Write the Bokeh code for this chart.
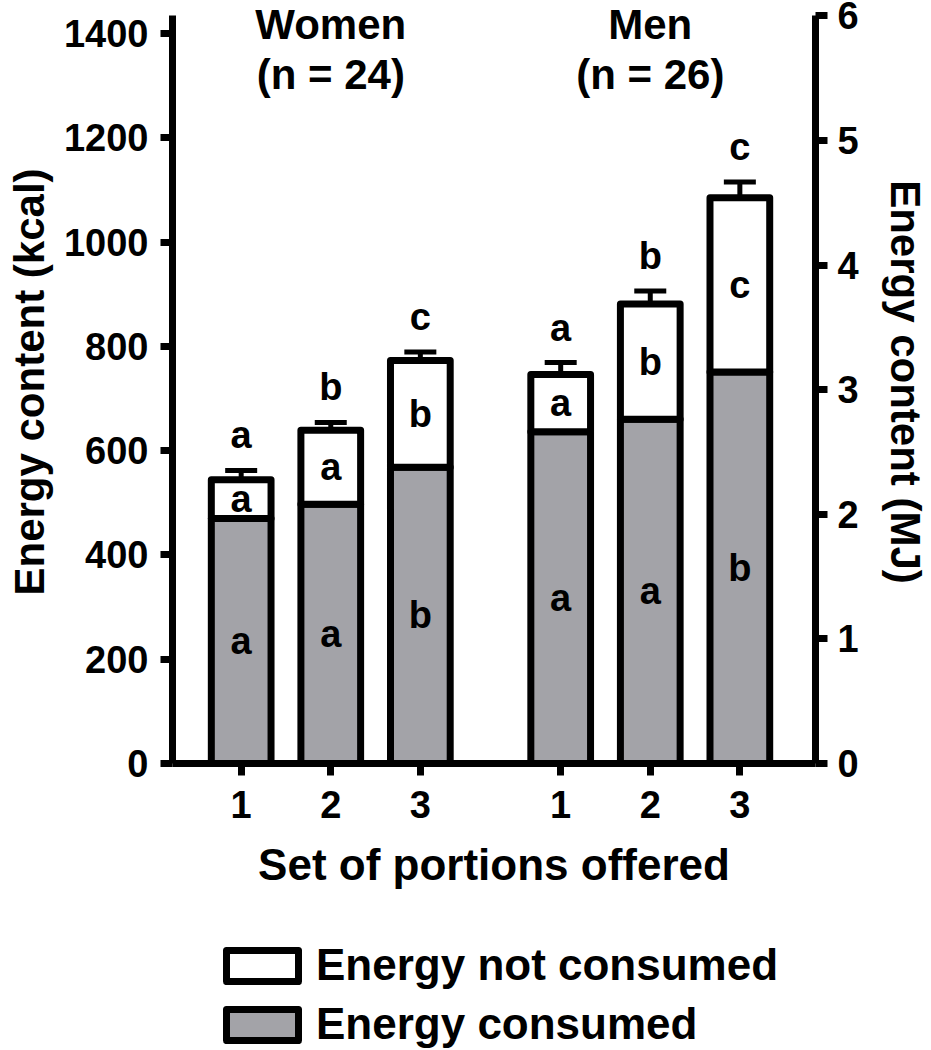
from bokeh.plotting import figure
from bokeh.layouts import column
from bokeh.models import (Range1d, LinearAxis, FixedTicker, ColumnDataSource,
                          Whisker, TeeHead, Legend, LegendItem)
from bokeh.core.properties import value
from bokeh.embed import file_html
from bokeh.resources import INLINE

# ---------------- data ----------------
groups = ["Women", "Men"]
group_sizes = ["(n = 24)", "(n = 26)"]
portion_sets = ["1", "2", "3"]

women_consumed = [470, 497, 568]
women_total = [544, 639, 773]
women_sem = [18, 15, 16]
men_consumed = [636, 660, 751]
men_total = [746, 881, 1085]
men_sem = [23, 25, 30]

women_sig_consumed = ["a", "a", "b"]
women_sig_not = ["a", "a", "b"]
women_sig_total = ["a", "b", "c"]
men_sig_consumed = ["a", "a", "b"]
men_sig_not = ["a", "b", "c"]
men_sig_total = ["a", "b", "c"]

legend_labels = ["Energy not consumed", "Energy consumed"]

kcal_ticks = [0, 200, 400, 600, 800, 1000, 1200, 1400]
mj_ticks = [0, 1, 2, 3, 4, 5, 6]
KCAL_PER_MJ = 239.006

# ---------------- layout ----------------
FONT = "Liberation Sans"
GRAY = "#a3a3a8"
W = 931
H_MAIN, H_LEG = 905, 145
FRAME_L, FRAME_W, FRAME_H = 172, 646, 763
FRAME_R = W - FRAME_L - FRAME_W
BAR_STEP, GROUP_GAP, BAR_W = 90, 321, 60
PX = 730 / 1400          # pixels per kcal
Y_TOP = FRAME_H / PX

x_pos = [i * BAR_STEP for i in range(3)] + [GROUP_GAP + i * BAR_STEP for i in range(3)]
consumed = women_consumed + men_consumed
total = women_total + men_total
sem = women_sem + men_sem
upper = [t + s for t, s in zip(total, sem)]

p = figure(width=W, height=H_MAIN, output_backend="svg", toolbar_location=None,
           x_range=Range1d(-69, -69 + FRAME_W), y_range=Range1d(0, Y_TOP),
           min_border_left=FRAME_L, min_border_right=FRAME_R,
           min_border_top=0, min_border_bottom=H_MAIN - FRAME_H)
p.outline_line_color = None
p.xgrid.visible = False
p.ygrid.visible = False

src = ColumnDataSource(dict(x=x_pos, consumed=consumed, total=total,
                            upper=upper, lower=total))

bar_style = dict(line_color="black", line_width=7, line_join="round")
r_cons = p.vbar(x="x", width=BAR_W, bottom=0, top="consumed", source=src,
                fill_color=GRAY, **bar_style)
r_not = p.vbar(x="x", width=BAR_W, bottom="consumed", top="total", source=src,
               fill_color="white", **bar_style)

wh = Whisker(source=src, base="x", upper="upper", lower="lower",
             line_color="black", line_width=5,
             upper_head=TeeHead(size=32, line_width=5, line_color="black"),
             lower_head=None)
p.add_layout(wh)

# significance letters
lx, ly, lt = [], [], []
sig_cons = women_sig_consumed + men_sig_consumed
sig_not = women_sig_not + men_sig_not
sig_tot = women_sig_total + men_sig_total
for i in range(6):
    lx += [x_pos[i]] * 3
    ly += [consumed[i] / 2, (consumed[i] + total[i]) / 2, upper[i] + 35 / PX]
    lt += [sig_cons[i], sig_not[i], sig_tot[i]]
p.text(x=lx, y=ly, text=lt, text_align="center", text_baseline="middle",
       text_font=value(FONT), text_font_style="bold", text_font_size="38px",
       text_color="black")

# group titles
gx = [x_pos[1], x_pos[4]]
p.text(x=gx, y=[(FRAME_H - 24) / PX] * 2, text=groups, text_align="center",
       text_baseline="middle", text_font=value(FONT), text_font_style="bold",
       text_font_size="42px", text_color="black")
p.text(x=gx, y=[(FRAME_H - 74) / PX] * 2, text=group_sizes, text_align="center",
       text_baseline="middle", text_font=value(FONT), text_font_style="bold",
       text_font_size="42px", text_color="black")

# ---------------- axes ----------------
def style(ax, label_size="38px", title_size="42px"):
    ax.axis_line_width = 7
    ax.axis_line_color = "black"
    ax.major_tick_line_width = 7
    ax.major_tick_line_color = "black"
    ax.major_tick_out = 12
    ax.major_tick_in = 0
    ax.minor_tick_line_color = None
    ax.major_label_text_font = FONT
    ax.major_label_text_font_style = "bold"
    ax.major_label_text_font_size = label_size
    ax.major_label_text_color = "black"
    ax.axis_label_text_font = FONT
    ax.axis_label_text_font_style = "bold"
    ax.axis_label_text_font_size = title_size
    ax.axis_label_text_color = "black"

xa = p.xaxis[0]
style(xa, title_size="44px")
xa.ticker = FixedTicker(ticks=x_pos)
xa.major_label_overrides = {x: portion_sets[i % 3] for i, x in enumerate(x_pos)}
xa.axis_label = "Set of portions offered"
xa.major_label_standoff = 15
xa.axis_label_standoff = 19

ya = p.yaxis[0]
style(ya)
ya.ticker = FixedTicker(ticks=kcal_ticks)
ya.bounds = (0, 6 * KCAL_PER_MJ)
ya.axis_label = "Energy content (kcal)"
ya.major_label_standoff = 12
ya.axis_label_standoff = 8

p.extra_y_ranges = {"mj": Range1d(0, Y_TOP / KCAL_PER_MJ)}
ra = LinearAxis(y_range_name="mj")
style(ra)
ra.ticker = FixedTicker(ticks=mj_ticks)
ra.bounds = (0, 6)
ra.axis_label = "Energy content (MJ)"
ra.major_label_standoff = 10
ra.axis_label_standoff = 20
p.add_layout(ra, "right")

# ---------------- legend (own strip below the chart) ----------------
pl = figure(width=W, height=H_LEG, output_backend="svg", toolbar_location=None,
            x_range=Range1d(0, 1), y_range=Range1d(0, 1),
            x_axis_location=None, y_axis_location=None,
            min_border_left=FRAME_L, min_border_right=FRAME_R,
            min_border_top=0, min_border_bottom=0)
pl.outline_line_color = None
pl.xgrid.visible = False
pl.ygrid.visible = False
# swatch-only renderers for the legend (no drawable data)
swatch = ColumnDataSource(dict(x=[float("nan")], top=[float("nan")]))
lr_not = pl.vbar(x="x", top="top", width=0.1, source=swatch, fill_color="white", **bar_style)
lr_cons = pl.vbar(x="x", top="top", width=0.1, source=swatch, fill_color=GRAY, **bar_style)
legend = Legend(items=[LegendItem(label=legend_labels[0], renderers=[lr_not]),
                       LegendItem(label=legend_labels[1], renderers=[lr_cons])],
                location=(45, 0), orientation="vertical",
                glyph_width=90, glyph_height=39, label_height=52,
                label_standoff=9, spacing=7,
                padding=0, margin=0, border_line_color=None,
                background_fill_alpha=0,
                label_text_font=FONT, label_text_font_style="bold",
                label_text_font_size="44px", label_text_color="black")
pl.add_layout(legend, "center")

layout = column(p, pl, spacing=0)
open("out.html", "w").write(file_html(layout, INLINE))
